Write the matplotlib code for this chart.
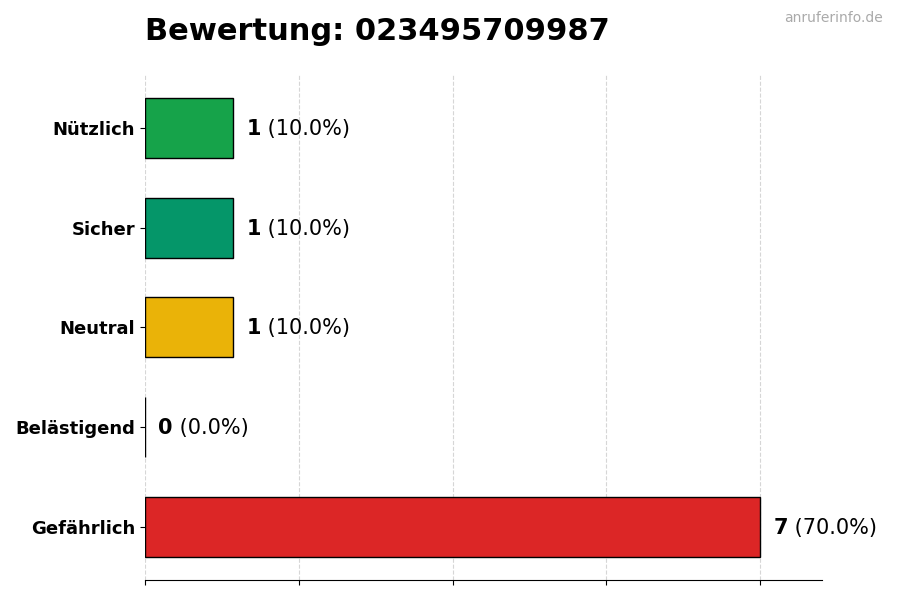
import numpy as np
from matplotlib import pyplot as plt

categories = ["Gefährlich", "Belästigend", "Neutral", "Sicher", "Nützlich"]
counts = [7, 0, 1, 1, 1]
colors = ["#dc2626", "#7c3aed", "#eab308", "#059669", "#16a34a"]
title = "Bewertung: 023495709987"

total = sum(counts)
fig = plt.figure(figsize=(9, 6), dpi=100)
ax = fig.add_axes([0.161, 0.0333, 0.752, 0.842])

y = np.arange(len(categories))
ax.barh(y, counts, height=0.6, color=colors, edgecolor="black", linewidth=1, zorder=3)

ax.set_yticks(y)
ax.set_yticklabels(categories, fontsize=13, fontweight="bold")
mx = max(counts)
ax.set_xlim(0, mx * 1.1)
ax.set_xticks(np.linspace(0, mx, 5))
ax.set_xticklabels([])
ax.grid(axis="x", linestyle="--", color="#cccccc", alpha=0.8, zorder=0)

for s in ["top", "right", "left"]:
    ax.spines[s].set_visible(False)

for yi, c in zip(y, counts):
    pct = c / total * 100
    t = ax.text(c + mx * 0.022, yi - 0.01, str(c), fontsize=15, fontweight="bold",
                va="center", ha="left")
    ax.annotate(f" ({pct:.1f}%)", xy=(1, 0.5), xycoords=t, fontsize=15,
                va="center", ha="left")

ax.set_title(title, loc="left", fontsize=22, fontweight="bold", pad=25)
fig.text(0.981, 0.97, "anruferinfo.de", ha="right", va="center",
         fontsize=10, color="#aaaaaa")

fig.savefig("out.png", dpi=100)
